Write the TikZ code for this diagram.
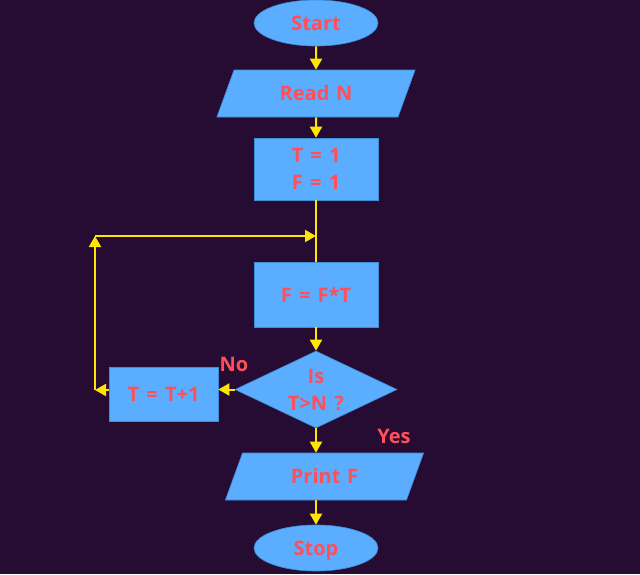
\documentclass[tikz,border=0pt]{standalone}
\usepackage{fontspec}
\setmainfont{Open Sans}[WordSpace = 1.4]
\usepackage{tikz}
\usetikzlibrary{shapes.geometric,arrows.meta}
\definecolor{bgpurple}{RGB}{38,11,51}
\definecolor{boxblue}{RGB}{90,173,255}
\definecolor{boxline}{RGB}{60,140,215}
\definecolor{txtred}{RGB}{255,80,90}
\definecolor{arryellow}{RGB}{255,230,0}

\tikzset{
    blk/.style = {fill = boxblue, draw = boxline, line width = 0.6pt, text = txtred,
        font = \fontsize{20}{27}\selectfont\bfseries, align = center, inner sep = 0pt},
    procbox/.style = {blk, rectangle, minimum width = 124pt},
    termbox/.style = {blk, ellipse, minimum width = 124pt, minimum height = 46pt,
        text height = 14pt, text depth = 0pt},
    iobox/.style = {blk, trapezium, trapezium left angle = 70, trapezium right angle = 110,
        text width = 164pt, text height = 30.5pt, text depth = 16.5pt},
    testbox/.style = {blk, diamond, aspect = 2.1, minimum width = 162pt, minimum height = 77pt},
    lbl/.style = {text = txtred, font = \fontsize{20}{24}\selectfont\bfseries},
    arr/.style = {draw = arryellow, line width = 2pt, -{Triangle[length = 11pt, width = 12pt]}},
    ln/.style = {draw = arryellow, line width = 2pt}
}

\begin{document}
\begin{tikzpicture}[x = 1pt, y = -1pt]
        \fill[bgpurple] (0, 0) rectangle (640, 574);
        \useasboundingbox (0, 0) rectangle (640, 574);

        \node[termbox] (start) at (316, 23) {Start};
        \node[iobox] (read) at (316, 93.5) {Read N};
        \node[procbox, minimum height = 62pt] (init) at (316, 169) {T = 1\\F = 1};
        \node[procbox, minimum height = 65pt] (mult) at (316, 294.5) {F = F*T};
        \node[testbox] (test) at (316, 389.5) {Is\\T>N ?};
        \node[procbox, minimum width = 109pt, minimum height = 54pt] (incr) at (163.5, 394) {T = T+1};
        \node[iobox] (print) at (324.5, 476.5) {Print F};
        \node[termbox] (stop) at (316, 548) {Stop};

        \node[lbl] (no) at (234, 364) {No};
        \node[lbl] (yes) at (394, 436) {Yes};

        \coordinate (join) at (316, 236);
        \coordinate (loopb) at (95, 390);
        \coordinate (loopt) at (95, 236);

        \draw[arr] (start) -- (read);
        \draw[arr] (read) -- (init);
        \draw[ln] (init) -- (mult);
        \draw[arr] (mult) -- (test);
        \draw[arr] (test.west) -- (test.west -| incr.east);
        \draw[arr] (incr.west |- loopb) -- (loopb);
        \draw[arr] (loopb) -- (loopt);
        \draw[arr] (loopt) -- (join);
        \draw[arr] (test.south) -- (test.south |- print.north);
        \draw[arr] (print.south -| stop) -- (stop);
    \end{tikzpicture}
\end{document}
